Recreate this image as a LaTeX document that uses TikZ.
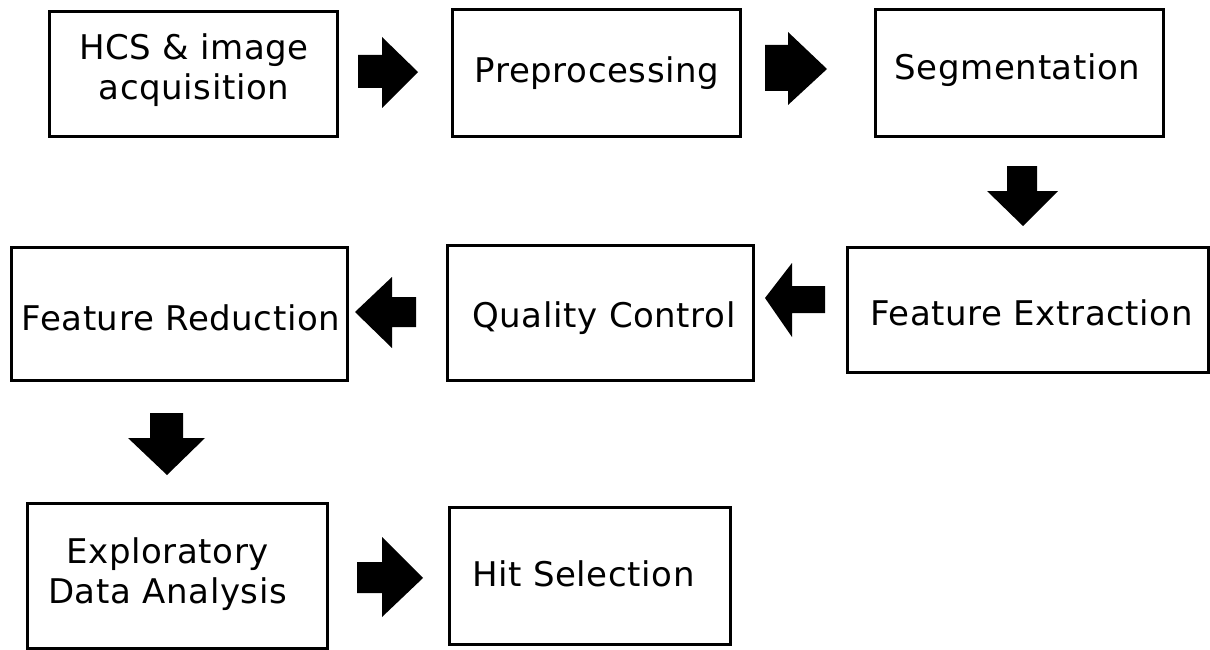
\documentclass[tikz,border=0pt]{standalone}
\usepackage{fontspec}
\setmainfont{DejaVu Sans}[LetterSpace=1.8]
\begin{document}
\begin{tikzpicture}[x=1pt,y=-1pt,
  box/.style={draw=black,line width=3pt,inner sep=0pt,minimum width=#1},
  lbl/.style={anchor=base,inner sep=0pt,align=center,font=\fontsize{34}{40}\selectfont},
  blk/.style={fill=black}]
\useasboundingbox (0,0) rectangle (1210,650);
% boxes
\node[box=288pt,minimum height=125pt] (b1) at (193,74.5) {};
\node[box=288pt,minimum height=127pt] (b2) at (596,73.5) {};
\node[box=288pt,minimum height=127pt] (b3) at (1019,73.5) {};
\node[box=361pt,minimum height=125pt] (b4) at (1027.5,309.5) {};
\node[box=306pt,minimum height=135pt] (b5) at (600,312.5) {};
\node[box=336pt,minimum height=133pt] (b6) at (179,313.5) {};
\node[box=300pt,minimum height=145pt] (b7) at (177,575.5) {};
\node[box=281pt,minimum height=137pt] (b8) at (589.5,575.5) {};
% labels
\node[lbl] (t1) at (194,100) {HCS \& image\\acquisition};
\node[lbl] (t2) at (597,83) {Preprocessing};
\node[lbl] (t3) at (1017.5,80) {Segmentation};
\node[lbl] (t4) at (1031.5,325) {Feature Extraction};
\node[lbl] (t5) at (604,327) {Quality Control};
\node[lbl] (t6) at (181,330) {Feature Reduction};
\node[lbl] (t7) at (167.5,603) {Exploratory\\Data Analysis};
\node[lbl] (t8) at (583.5,586) {Hit Selection};
% block arrows
\fill[blk] (358,55) -- (382,55) -- (382,37) -- (418,72) -- (382,108) -- (382,88) -- (358,88) -- cycle;
\fill[blk] (765,45) -- (788,45) -- (788,32) -- (827,69) -- (788,105) -- (788,91) -- (765,91) -- cycle;
\fill[blk] (1007,166) -- (1037,166) -- (1037,191) -- (1058,191) -- (1023,226) -- (987,191) -- (1007,191) -- cycle;
\fill[blk] (825,286) -- (792,286) -- (792,263) -- (765,298) -- (792,337) -- (792,313) -- (825,313) -- cycle;
\fill[blk] (416,297) -- (392,297) -- (392,277) -- (355,312) -- (392,348) -- (392,327) -- (416,327) -- cycle;
\fill[blk] (150,413) -- (183,413) -- (183,438) -- (205,438) -- (167,475) -- (128,438) -- (150,438) -- cycle;
\fill[blk] (357,562) -- (382,562) -- (382,537) -- (423,578) -- (382,617) -- (382,593) -- (357,593) -- cycle;
\end{tikzpicture}
\end{document}
